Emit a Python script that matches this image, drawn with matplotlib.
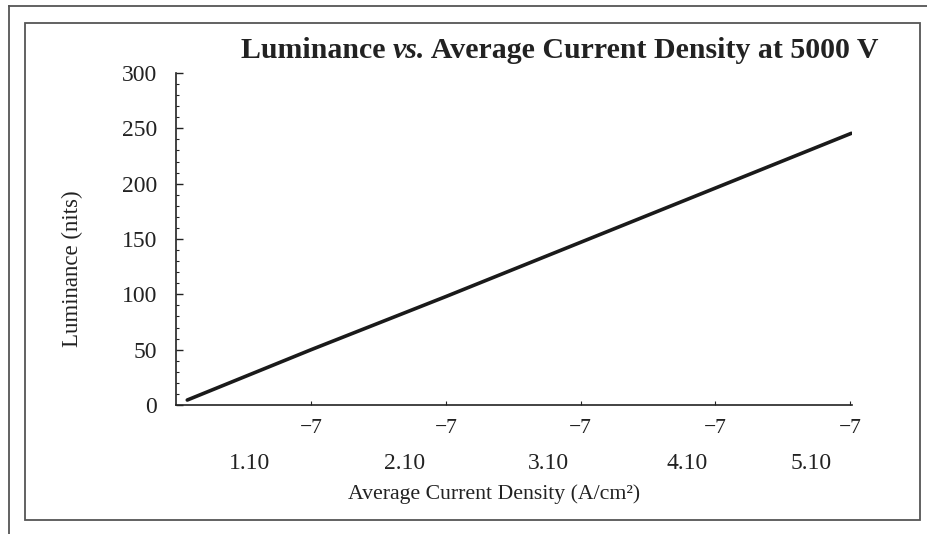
import matplotlib
matplotlib.use("Agg")
import matplotlib.pyplot as plt
from matplotlib.lines import Line2D
from matplotlib.ticker import MultipleLocator
import matplotlib.transforms as mtransforms

# ---- data ----
current_density = [0.08e-7, 1.0e-7, 2.0e-7, 3.0e-7, 4.0e-7, 5.01e-7]   # A/cm^2
luminance = [4.5, 50.0, 98.0, 147.0, 196.0, 245.5]                     # nits
x_tick_values = [1e-7, 2e-7, 3e-7, 4e-7, 5e-7]
x_tick_exponents = ["\u22127", "\u22127", "\u22127", "\u22127", "\u22127"]
x_tick_mantissas = ["1.10", "2.10", "3.10", "4.10", "5.10"]
y_tick_values = [0, 50, 100, 150, 200, 250, 300]

# ---- style ----
serif = ["Liberation Serif", "DejaVu Serif"]
ink = "#222222"
frame_col = "#555555"
plt.rcParams["font.family"] = serif

fig = plt.figure(figsize=(9.28, 5.34), dpi=100)
fig.patch.set_facecolor("white")

# page frames
fig.add_artist(Line2D([9/928, 1.0], [1 - 6/534, 1 - 6/534], color=frame_col, lw=1.3,
                      transform=fig.transFigure))
fig.add_artist(Line2D([9/928, 9/928], [0.0, 1 - 6/534], color=frame_col, lw=1.3,
                      transform=fig.transFigure))
fig.add_artist(plt.Rectangle((25/928, 1 - 520/534), (920 - 25)/928, (520 - 23)/534,
                             fill=False, ec=frame_col, lw=1.3, transform=fig.transFigure))

ax = fig.add_axes([176.5/928, 129/534, 675.5/928, 332/534])
ax.plot(current_density, luminance, color="#1a1a1a", lw=2.6, solid_capstyle="round")

ax.set_xlim(0, 5.015e-7)
ax.set_ylim(0, 300)
for s in ("top", "right"):
    ax.spines[s].set_visible(False)
for s in ("left", "bottom"):
    ax.spines[s].set_color(ink)
    ax.spines[s].set_linewidth(1.2)

ax.set_yticks(y_tick_values)
ax.yaxis.set_minor_locator(MultipleLocator(10))
ax.tick_params(axis="y", which="major", direction="in", length=5, width=1.0,
               color=ink, labelsize=17, labelcolor=ink, pad=14)
ax.tick_params(axis="y", which="minor", direction="in", length=2.5, width=0.8, color=ink)

ax.set_xticks(x_tick_values)
ax.set_xticklabels(x_tick_exponents)
ax.tick_params(axis="x", which="major", direction="in", length=3, width=0.8,
               color=ink, labelsize=15.5, labelcolor=ink, pad=10)

# mantissa row beneath the exponent row
mantissa_shift = [-0.46e-7, -0.31e-7, -0.24e-7, -0.21e-7, -0.29e-7]
trans = mtransforms.blended_transform_factory(ax.transData, ax.transAxes)
for xv, dx, lab in zip(x_tick_values, mantissa_shift, x_tick_mantissas):
    ax.text(xv + dx, -0.175, lab, transform=trans, ha="center", va="center",
            fontsize=17, color=ink)

ax.set_xlabel("Average Current Density (A/cm\u00b2)", fontsize=15.7, color=ink)
ax.xaxis.set_label_coords(0.47, -0.24)
ax.set_ylabel("Luminance (nits)", fontsize=16.5, color=ink)
ax.yaxis.set_label_coords(-0.138, 0.41)

# title with italic "vs."
renderer = fig.canvas.get_renderer()
parts = [("Luminance ", "normal"), ("vs.", "italic"), (" Average Current Density at 5000 V", "normal")]
title_size = 21.5
texts = []
for s, style in parts:
    t = fig.text(0, 1 - 51/534, s, fontsize=title_size, fontweight="bold", style=style,
                 color=ink, va="center", ha="left")
    texts.append(t)
widths = [t.get_window_extent(renderer).width for t in texts]
total = sum(widths)
x_left = 560 - total / 2
for t, w in zip(texts, widths):
    t.set_x(x_left / 928)
    x_left += w

fig.savefig("out.png", dpi=100, facecolor="white")
